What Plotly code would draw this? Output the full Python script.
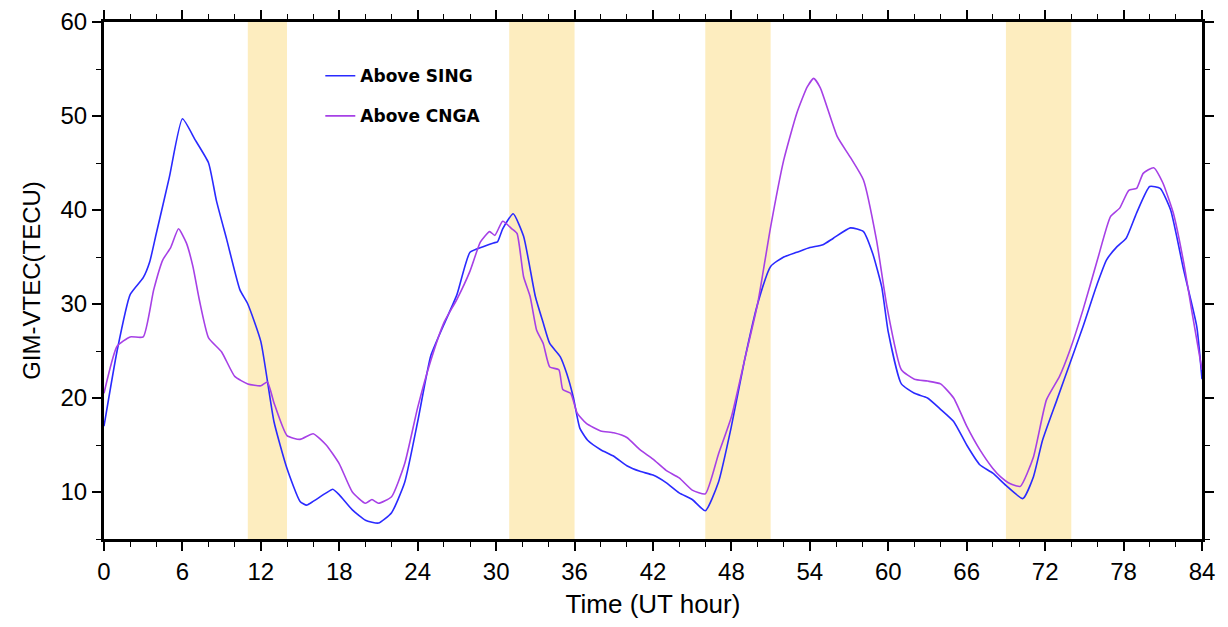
"""
GIM-VTEC above SING and CNGA
"""
import plotly.graph_objects as go

# ---- data ----
sing_t = [0, 1, 2, 3, 3.5, 4, 5, 6, 7, 8, 8.6, 9.4, 10.4, 11, 12, 13, 14, 15, 15.5, 16,
          17, 17.5, 18, 19, 20, 21, 22, 23, 24, 25, 26, 27, 28, 29, 29.8, 30.1, 30.5,
          31.3, 32.1, 33, 33.6, 34.1, 34.9, 35.4, 35.9, 36.4, 37, 38, 39, 40, 41, 42,
          43, 44, 45, 46, 47, 48, 49, 50, 51, 52, 53, 54, 55, 55.8, 57.1, 58.1, 58.8,
          59.5, 60, 61, 62, 63, 64, 65, 66, 67, 68, 69, 70.3, 71.1, 71.8, 72.9, 73.9,
          74.9, 76, 76.7, 77.5, 78.2, 79, 80, 80.8, 81.6, 82.6, 83.6, 84]
sing_vtec = [17, 25, 31, 32.8, 34.5, 37.5, 43.5, 49.7, 47.4, 45, 41, 36.8, 31.5, 30, 26, 17.5,
             12.5, 9, 8.6, 9, 9.9, 10.3, 9.7, 8.1, 7, 6.7, 7.8, 11, 17.5, 24.5, 27.8, 31,
             35.5, 36.1, 36.5, 36.6, 38, 39.6, 37.2, 30.8, 28, 25.8, 24.4, 22.6, 20.1,
             16.8, 15.5, 14.5, 13.8, 12.8, 12.2, 11.8, 11, 9.9, 9.2, 8, 11, 17, 24, 30,
             34, 35, 35.5, 36, 36.3, 37, 38.1, 37.7, 35.4, 31.8, 27, 21.5, 20.5, 20, 18.8,
             17.5, 15, 12.9, 12, 10.7, 9.3, 11.6, 15.5, 19.8, 23.7, 27.6, 32.2, 34.7,
             36.1, 37, 39.7, 42.5, 42.3, 40, 33.6, 27.6, 22]

cnga_t = [0, 1, 2, 3, 3.8, 4.5, 5.1, 5.7, 6.3, 6.8, 7.3, 8, 9, 10, 11, 12, 12.5, 13, 14,
          15, 16, 17, 18, 19, 20, 20.5, 21, 22, 23, 24, 25, 26, 27, 28, 28.8, 29.5, 29.9,
          30.5, 31.2, 31.6, 32.1, 32.6, 33.1, 33.6, 34.1, 34.8, 35.1, 35.7, 36.2, 36.9,
          38, 39, 40, 41, 42, 43, 44, 45, 46, 47, 48, 49, 50, 51, 52, 53, 53.8, 54.3,
          54.8, 56.1, 57.1, 58.1, 59.1, 59.9, 61, 62, 63, 64, 65, 66, 67, 68, 68.6, 69.3,
          70.1, 71.1, 72.1, 73.1, 73.9, 74.9, 76, 77, 77.7, 78.4, 79, 79.5, 80.3, 81,
          81.8, 82.6, 83.3, 84]
cnga_vtec = [20.5, 25.5, 26.5, 26.5, 31.5, 34.7, 36, 38, 36.5, 34, 30.4, 26.4, 24.9, 22.3,
             21.5, 21.3, 21.7, 19.5, 16, 15.6, 16.2, 15, 13, 10, 8.8, 9.2, 8.8, 9.5, 13,
             19, 24, 28, 30.5, 33.5, 36.6, 37.7, 37.3, 38.8, 38, 37.5, 32.9, 30.8, 27.2,
             25.8, 23.3, 23, 20.9, 20.5, 18.4, 17.3, 16.5, 16.3, 15.8, 14.5, 13.5, 12.3,
             11.5, 10.2, 9.8, 14, 18, 24, 30, 38.2, 45.3, 50.3, 53.1, 54, 53, 47.8, 45.6,
             43.2, 36.8, 29.7, 23, 22, 21.8, 21.5, 20, 17, 14.5, 12.5, 11.6, 10.9, 10.6,
             13.7, 19.8, 22.3, 25.1, 29.4, 34.7, 39.3, 40.2, 42.1, 42.3, 43.9, 44.5, 42.9,
             39.7, 34.4, 28.6, 23]

# shaded periods (UT hour)
band_start = [11, 31, 46, 69]
band_end = [14, 36, 51, 74]

x_ticks = list(range(0, 85, 6))


def make_fig():
    fig = go.Figure()
    fig.add_trace(go.Scatter(x=sing_t, y=sing_vtec, mode="lines", name="Above SING",
                             legendgroup="a",
                             line=dict(color="#2a2aff", width=1.6, shape="spline",
                                       smoothing=0.5)))
    fig.add_trace(go.Scatter(x=cnga_t, y=cnga_vtec, mode="lines", name="Above CNGA",
                             legendgroup="b",
                             line=dict(color="#a640e6", width=1.6, shape="spline",
                                       smoothing=0.5)))

    for s, e in zip(band_start, band_end):
        fig.add_vrect(x0=s, x1=e, fillcolor="#fdedbf", line_width=0, layer="below")

    axis_common = dict(
        showline=True, linecolor="black", linewidth=3, mirror="allticks",
        ticks="outside", ticklen=9, tickwidth=1.5, tickcolor="black",
        showgrid=False, zeroline=False, automargin=False,
        tickfont=dict(family="Liberation Sans, Arial", size=24, color="black"),
    )
    fig.update_xaxes(range=[0, 84], tickvals=x_ticks,
                     minor=dict(dtick=2, ticks="outside", ticklen=5, tickwidth=1.2,
                                tickcolor="black"),
                     title=dict(text="Time (UT hour)", standoff=12,
                                font=dict(family="Liberation Sans, Arial", size=26,
                                          color="black")),
                     **axis_common)
    fig.update_yaxes(range=[5, 60], dtick=10, tick0=0,
                     minor=dict(dtick=5, ticks="outside", ticklen=5, tickwidth=1.2,
                                tickcolor="black"),
                     title=dict(text="GIM-VTEC(TECU)", standoff=14,
                                font=dict(family="Liberation Sans, Arial", size=24,
                                          color="black")),
                     **axis_common)

    # page body adds an 8px offset, margins compensate for it
    fig.update_layout(
        width=1228, height=627,
        margin=dict(l=96, r=34, t=14, b=96),
        paper_bgcolor="white", plot_bgcolor="white",
        showlegend=True,
        legend=dict(x=0.197, y=0.93, xanchor="left", yanchor="top",
                    bgcolor="rgba(0,0,0,0)", tracegroupgap=15, itemwidth=30,
                    font=dict(family="DejaVu Sans", size=17, color="black",
                              weight="bold")),
    )
    return fig


def main():
    fig = make_fig()
    fig.write_html("out.html")


if __name__ == "__main__":
    main()
